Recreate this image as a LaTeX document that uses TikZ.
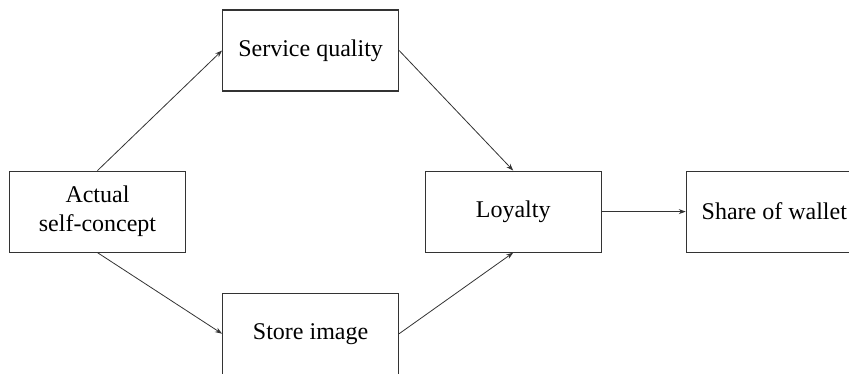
\documentclass[tikz,border=0pt]{standalone}
\usepackage{fontspec}
\setmainfont{Liberation Serif}
\usetikzlibrary{positioning,arrows.meta}

\begin{document}
\begin{tikzpicture}[
    x=1pt, y=-1pt,
    box/.style={draw=black!80, line width=1.1pt, minimum width=176pt, minimum height=81pt, inner sep=0pt, align=center, font=\fontsize{24}{29}\selectfont},
    arrow/.style={-{Stealth[length=7pt,width=5pt]}, line width=0.8pt, draw=black!80}
]
\useasboundingbox (0,0) rectangle (849,373);

% Source construct
\node[box] (actual) at (97.5,211.6) {Actual\\self-concept};

% Mediators
\node[box, above right=79pt and 36pt of actual] (service) {Service quality};
\node[box, below right=40pt and 36pt of actual] (store) {Store image};

% Outcomes
\node[box, right=238.6pt of actual] (loyalty) {Loyalty};
\node[box, right=84pt of loyalty] (wallet) {Share of wallet};

% Arrows
\draw[arrow] (actual.north) -- (service.west);
\draw[arrow] (actual.south) -- (store.west);
\draw[arrow] (service.east) -- (loyalty.north);
\draw[arrow] (store.east) -- (loyalty.south);
\draw[arrow] (loyalty.east) -- (wallet.west);

\end{tikzpicture}
\end{document}
